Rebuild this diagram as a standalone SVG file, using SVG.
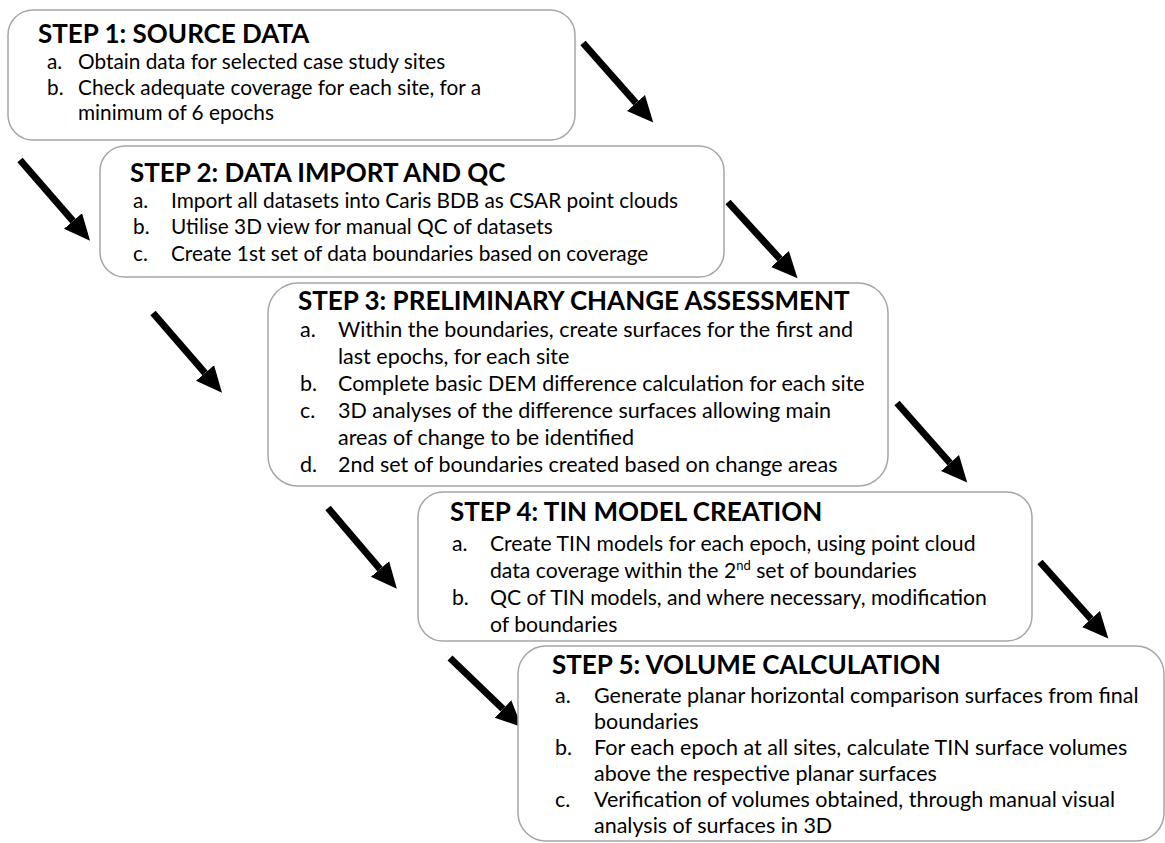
<svg xmlns="http://www.w3.org/2000/svg" width="1165" height="843" viewBox="0 0 1165 843">
<style>
  .box { fill: #ffffff; stroke: #a6a6a6; stroke-width: 1.5; }
  .title { font-family: Lato, "Liberation Sans", sans-serif; font-weight: bold; font-size: 26px; fill: #000; }
  .txt { font-family: Lato, "Liberation Sans", sans-serif; font-size: 21px; fill: #000; }
  .s12 .txt { font-size: 20.8px; }
  .s35 .txt { font-size: 21.5px; }
  .s4 .txt { font-size: 21.2px; }
  .arrow { stroke: #000; stroke-width: 7; fill: none; marker-end: url(#head); }
</style>
<defs>
  <marker id="head" markerUnits="userSpaceOnUse" markerWidth="27" markerHeight="26" refX="0" refY="13" orient="auto">
    <path d="M0,1 L26,13 L0,25 Z" fill="#000"/>
  </marker>
</defs>
<rect width="1165" height="843" fill="#ffffff"/>
<g id="connectors">
  <line class="arrow" x1="583" y1="43" x2="636" y2="103"/>
  <line class="arrow" x1="20" y1="160" x2="73" y2="221"/>
  <line class="arrow" x1="728" y1="202" x2="780" y2="259"/>
  <line class="arrow" x1="153" y1="313" x2="205" y2="373"/>
  <line class="arrow" x1="897" y1="403" x2="950" y2="463"/>
  <line class="arrow" x1="328" y1="508" x2="380" y2="569"/>
  <line class="arrow" x1="1040" y1="562" x2="1091" y2="619"/>
  <line class="arrow" x1="450" y1="658" x2="503" y2="709"/>
</g>
<g id="step1" class="s12">
  <rect class="box" x="8" y="10" width="567" height="130" rx="25"/>
  <text class="title" x="38" y="43">STEP 1: SOURCE DATA</text>
  <text class="txt" x="47" y="69">a.</text><text class="txt" x="78" y="69">Obtain data for selected case study sites</text>
  <text class="txt" x="47" y="94.5">b.</text><text class="txt" x="78" y="94.5">Check adequate coverage for each site, for a</text>
  <text class="txt" x="78" y="120">minimum of 6 epochs</text>
</g>
<g id="step2" class="s12">
  <rect class="box" x="100" y="146" width="624" height="131" rx="25"/>
  <text class="title" x="130" y="182">STEP 2: DATA IMPORT AND QC</text>
  <text class="txt" x="133" y="208">a.</text><text class="txt" x="171" y="208">Import all datasets into Caris BDB as CSAR point clouds</text>
  <text class="txt" x="133" y="234">b.</text><text class="txt" x="171" y="234">Utilise 3D view for manual QC of datasets</text>
  <text class="txt" x="133" y="261">c.</text><text class="txt" x="171" y="261">Create 1st set of data boundaries based on coverage</text>
</g>
<g id="step3" class="s35">
  <rect class="box" x="268" y="283" width="620" height="203" rx="30"/>
  <text class="title" x="298" y="310">STEP 3: PRELIMINARY CHANGE ASSESSMENT</text>
  <text class="txt" x="300" y="337">a.</text><text class="txt" x="338" y="337">Within the boundaries, create surfaces for the first and</text>
  <text class="txt" x="338" y="364">last epochs, for each site</text>
  <text class="txt" x="300" y="391">b.</text><text class="txt" x="338" y="391">Complete basic DEM difference calculation for each site</text>
  <text class="txt" x="300" y="418">c.</text><text class="txt" x="338" y="418">3D analyses of the difference surfaces allowing main</text>
  <text class="txt" x="338" y="445">areas of change to be identified</text>
  <text class="txt" x="300" y="472">d.</text><text class="txt" x="338" y="472">2nd set of boundaries created based on change areas</text>
</g>
<g id="step4" class="s4">
  <rect class="box" x="418" y="492" width="614" height="149" rx="25"/>
  <text class="title" x="450" y="521">STEP 4: TIN MODEL CREATION</text>
  <text class="txt" x="452" y="551">a.</text><text class="txt" x="490" y="551">Create TIN models for each epoch, using point cloud</text>
  <text class="txt" x="490" y="578">data coverage within the 2<tspan font-size="13" baseline-shift="super">nd</tspan> set of boundaries</text>
  <text class="txt" x="452" y="605">b.</text><text class="txt" x="490" y="605">QC of TIN models, and where necessary, modification</text>
  <text class="txt" x="490" y="632">of boundaries</text>
</g>
<g id="step5" class="s35">
  <rect class="box" x="518" y="646" width="646" height="195" rx="28"/>
  <text class="title" x="552" y="674">STEP 5: VOLUME CALCULATION</text>
  <text class="txt" x="555" y="703">a.</text><text class="txt" x="594" y="703">Generate planar horizontal comparison surfaces from final</text>
  <text class="txt" x="594" y="729">boundaries</text>
  <text class="txt" x="555" y="755">b.</text><text class="txt" x="594" y="755">For each epoch at all sites, calculate TIN surface volumes</text>
  <text class="txt" x="594" y="781">above the respective planar surfaces</text>
  <text class="txt" x="555" y="807">c.</text><text class="txt" x="594" y="807">Verification of volumes obtained, through manual visual</text>
  <text class="txt" x="594" y="833">analysis of surfaces in 3D</text>
</g>
</svg>
